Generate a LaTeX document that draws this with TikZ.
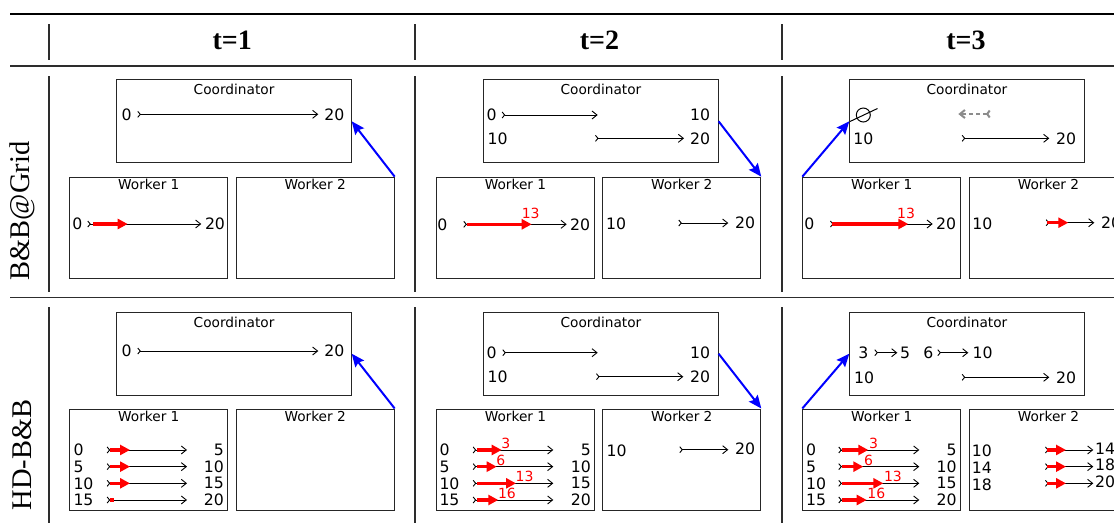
\documentclass[tikz,border=0pt]{standalone}
\usepackage{fontspec}
\setmainfont{Liberation Serif}
\setsansfont{DejaVu Sans}
\usepackage{tikz}
\usetikzlibrary{positioning, arrows.meta}
\definecolor{rulegray}{RGB}{45, 45, 45}
\definecolor{stalegray}{RGB}{140, 140, 140}

\begin{document}
\begin{tikzpicture}[
    x=1pt, y=-1pt,
    box/.style={rectangle, draw=black!85, line width=1pt, anchor=north west, inner sep=0pt, minimum height=101pt},
    crd/.style={box, minimum width=234.3pt, minimum height=83pt},
    wkr/.style={box, minimum width=158pt},
    ttl/.style={font=\sffamily\fontsize{13.7}{14}\selectfont, inner sep=0pt},
    num/.style={font=\sffamily\fontsize{15.7}{16}\selectfont, inner sep=0pt},
    hit/.style={font=\sffamily\fontsize{14}{14}\selectfont, text=red, inner sep=0pt},
    ivl/.style={line width=0.9pt, {Straight Barb[reversed,length=2.5pt,width=6pt]}-{Straight Barb[length=5pt,width=8pt]}},
    done/.style={red, line width=3.5pt, -{Triangle[length=10pt,width=10pt]}},
    stale/.style={stalegray, line width=2pt, dash pattern=on 4pt off 3pt, {Straight Barb[reversed,length=2.5pt,width=7pt]}-{Straight Barb[length=5pt,width=8pt]}},
    msg/.style={blue, line width=2pt, -{Stealth[length=13pt,width=11pt,inset=2pt]}},
    rule/.style={rulegray, line width=1.3pt},
    head/.style={font=\bfseries\fontsize{28}{28}\selectfont, inner sep=0pt},
    algo/.style={font=\fontsize{28.5}{29}\selectfont, rotate=90, inner sep=0pt}
]
    \useasboundingbox (0,0) rectangle (1114,523);
    \clip (0,0) rectangle (1114,523);

    % table rules
    \draw[black, line width=2pt] (10,14) -- (1114,14);
    \draw[rule] (10,66) -- (1114,66);
    \draw[rule] (10,297.5) -- (1114,297.5);
    \draw[rule] (49,24) -- (49,59.5) (49,76) -- (49,291.5) (49,307) -- (49,523);
    \draw[rule] (415,24) -- (415,59.5) (415,76) -- (415,291.5) (415,307) -- (415,523);
    \draw[rule] (782,24) -- (782,59.5) (782,76) -- (782,291.5) (782,307) -- (782,523);

    \node[head] (t1) at (232.3,40) {t=1};
    \node[head] (t2) at (599.5,40) {t=2};
    \node[head] (t3) at (966,40) {t=3};
    \node[algo] (grid) at (22.5,211) {B\&B@Grid};
    \node[algo] (hdbb) at (22.5,455) {HD-B\&B};

    % B&B@Grid, t=1
    \node[crd] (crdA1) at (116.4,79.3) {};
    \node[ttl, below=4.7pt of crdA1.north] (crdA1t) {Coordinator};
    \node[wkr] (wkA1a) at (69.3,176.7) {};
    \node[ttl, below=2.3pt of wkA1a.north] (wkA1at) {Worker 1};
    \node[wkr] (wkA1b) at (235.7,176.7) {};
    \node[ttl, below=2.3pt of wkA1b.north] (wkA1bt) {Worker 2};
    \node[num] (cA1lo) at (126.7,114.3) {0};
    \node[num] (cA1hi) at (334.3,114.3) {20};
    \draw[ivl] (137.3,114.3) -- (318.3,114.3);
    \node[num] (wA1lo) at (77.3,224) {0};
    \node[num] (wA1hi) at (215,224) {20};
    \draw[ivl] (87.3,224) -- (201.3,224);
    \draw[done] (93.3,224) -- (127.7,224);
    \draw[msg] (wkA1b.north east) -- (crdA1.east);

    % B&B@Grid, t=2
    \node[crd] (crdA2) at (483.3,79.3) {};
    \node[ttl, below=4.7pt of crdA2.north] (crdA2t) {Coordinator};
    \node[wkr] (wkA2a) at (436,176.7) {};
    \node[ttl, below=2.3pt of wkA2a.north] (wkA2at) {Worker 1};
    \node[wkr] (wkA2b) at (602.3,176.7) {};
    \node[ttl, below=2.3pt of wkA2b.north] (wkA2bt) {Worker 2};
    \node[num] (cA2lo) at (491.7,115) {0};
    \node[num] (cA2mid) at (700,115) {10};
    \draw[ivl] (501.7,115) -- (597.7,115);
    \node[num] (cA2mid2) at (497.7,138.3) {10};
    \node[num] (cA2hi) at (700,138.3) {20};
    \draw[ivl] (595,138.3) -- (684,138.3);
    \node[num] (wA2lo) at (442.3,224.3) {0};
    \node[num] (wA2hi) at (580,224.3) {20};
    \draw[ivl] (463.3,224.3) -- (566.7,224.3);
    \draw[done] (466.7,224.3) -- (531.7,224.3);
    \node[hit] (wA2at) at (530.7,213.3) {13};
    \node[num] (vA2lo) at (616,224) {10};
    \node[num] (vA2hi) at (745,222.3) {20};
    \draw[ivl] (678.3,223) -- (728.3,223);
    \draw[msg] (crdA2.east) -- (wkA2b.north east);

    % B&B@Grid, t=3
    \node[crd] (crdA3) at (849.3,79.3) {};
    \node[ttl, below=4.7pt of crdA3.north] (crdA3t) {Coordinator};
    \node[wkr] (wkA3a) at (802.3,176.7) {};
    \node[ttl, below=2.3pt of wkA3a.north] (wkA3at) {Worker 1};
    \node[wkr] (wkA3b) at (969,176.7) {};
    \node[ttl, below=2.3pt of wkA3b.north] (wkA3bt) {Worker 2};
    \node[circle, draw, line width=1pt, minimum size=14pt, inner sep=0pt] (cA3nil) at (863.3,115) {};
    \draw[line width=1pt] (850,121.5) -- (877.5,108.5);
    \draw[stale] (990.7,114) -- (958.3,114);
    \node[num] (cA3lo) at (863.3,138.3) {10};
    \node[num] (cA3hi) at (1066,138.3) {20};
    \draw[ivl] (961.7,138.3) -- (1049.3,138.3);
    \node[num] (wA3lo) at (809.3,224) {0};
    \node[num] (wA3hi) at (946,224) {20};
    \draw[ivl] (830,224) -- (932.7,224);
    \draw[done] (831.7,224) -- (908.3,224);
    \node[hit] (wA3at) at (906,213) {13};
    \node[num] (vA3lo) at (982.3,224) {10};
    \node[num] (vA3hi) at (1111,222.3) {20};
    \draw[ivl] (1045.7,222.7) -- (1094.3,222.7);
    \draw[done] (1046.7,222.7) -- (1068.3,222.7);
    \draw[msg] (wkA3a.north west) -- (crdA3.west);

    % HD-B&B, t=1
    \node[crd] (crdB1) at (116.4,311.7) {};
    \node[ttl, below=4.7pt of crdB1.north] (crdB1t) {Coordinator};
    \node[wkr] (wkB1a) at (69.3,408.5) {};
    \node[ttl, below=2.3pt of wkB1a.north] (wkB1at) {Worker 1};
    \node[wkr] (wkB1b) at (235.7,408.5) {};
    \node[ttl, below=2.3pt of wkB1b.north] (wkB1bt) {Worker 2};
    \node[num] (cB1lo) at (126.7,351) {0};
    \node[num] (cB1hi) at (334.3,351) {20};
    \draw[ivl] (137.3,351) -- (318.3,351);
    \foreach \lo/\hi [count=\i] in {0/5, 5/10, 10/15, 15/20} {
        \node[num, anchor=west] (wB1lo\i) at (73.3,433.3+16.67*\i) {\lo};
        \node[num, anchor=east] (wB1hi\i) at (224,433.3+16.67*\i) {\hi};
        \draw[ivl] (106.7,433.3+16.67*\i) -- (187,433.3+16.67*\i);
    }
    \foreach \i in {1,2,3}
        \draw[done] (110,433.3+16.67*\i) -- (130,433.3+16.67*\i);
    \fill[red] (110,498.3) rectangle (113.5,501.7);
    \draw[msg] (wkB1b.north east) -- (crdB1.east);

    % HD-B&B, t=2
    \node[crd] (crdB2) at (483.3,311.7) {};
    \node[ttl, below=4.7pt of crdB2.north] (crdB2t) {Coordinator};
    \node[wkr] (wkB2a) at (436,408.5) {};
    \node[ttl, below=2.3pt of wkB2a.north] (wkB2at) {Worker 1};
    \node[wkr] (wkB2b) at (602.3,408.5) {};
    \node[ttl, below=2.3pt of wkB2b.north] (wkB2bt) {Worker 2};
    \node[num] (cB2lo) at (491.7,352.7) {0};
    \node[num] (cB2mid) at (700,352.7) {10};
    \draw[ivl] (502.3,352.7) -- (597.7,352.7);
    \node[num] (cB2mid2) at (497.7,376.7) {10};
    \node[num] (cB2hi) at (700,376.7) {20};
    \draw[ivl] (596,376.7) -- (683.3,376.7);
    \foreach \lo/\hi/\e/\t [count=\i] in {0/5/501.7/3, 5/10/496.7/6, 10/15/516/13, 15/20/498.3/16} {
        \node[num, anchor=west] (wB2lo\i) at (439.3,433.3+16.67*\i) {\lo};
        \node[num, anchor=east] (wB2hi\i) at (591,433.3+16.67*\i) {\hi};
        \draw[ivl] (472.7,433.3+16.67*\i) -- (553.3,433.3+16.67*\i);
        \draw[done] (476.7,433.3+16.67*\i) -- (\e,433.3+16.67*\i);
        \node[hit, anchor=west] (wB2at\i) at (\e-0.5,426.6+16.67*\i) {\t};
    }
    \node[num] (vB2lo) at (616.7,450.7) {10};
    \node[num] (vB2hi) at (745,449) {20};
    \draw[ivl] (679.3,449.7) -- (728.3,449.7);
    \draw[msg] (crdB2.east) -- (wkB2b.north east);

    % HD-B&B, t=3
    \node[crd] (crdB3) at (849.3,311.7) {};
    \node[ttl, below=4.7pt of crdB3.north] (crdB3t) {Coordinator};
    \node[wkr] (wkB3a) at (802.3,408.5) {};
    \node[ttl, below=2.3pt of wkB3a.north] (wkB3at) {Worker 1};
    \node[wkr] (wkB3b) at (969,408.5) {};
    \node[ttl, below=2.3pt of wkB3b.north] (wkB3bt) {Worker 2};
    \node[num] (cB3a) at (863.3,352.7) {3};
    \node[num] (cB3b) at (905,352.7) {5};
    \draw[ivl] (874.3,352.7) -- (897.3,352.7);
    \node[num] (cB3c) at (928.3,352.7) {6};
    \node[num] (cB3d) at (982.7,352.7) {10};
    \draw[ivl] (937.3,352.7) -- (968.3,352.7);
    \node[num] (cB3e) at (864,377.3) {10};
    \node[num] (cB3f) at (1066,377.3) {20};
    \draw[ivl] (961.7,377.3) -- (1049.3,377.3);
    \foreach \lo/\hi/\e/\t [count=\i] in {0/5/868.3/3, 5/10/863.3/6, 10/15/883.3/13, 15/20/866.7/16} {
        \node[num, anchor=west] (wB3lo\i) at (806,433.3+16.67*\i) {\lo};
        \node[num, anchor=east] (wB3hi\i) at (956.7,433.3+16.67*\i) {\hi};
        \draw[ivl] (838.3,433.3+16.67*\i) -- (919.3,433.3+16.67*\i);
        \draw[done] (841.7,433.3+16.67*\i) -- (\e,433.3+16.67*\i);
        \node[hit, anchor=west] (wB3at\i) at (\e+0.5,426.6+16.67*\i) {\t};
    }
    \foreach \lo/\hi [count=\i] in {10/14, 14/18, 18/20} {
        \node[num, anchor=west] (vB3lo\i) at (971.7,434.3+16.67*\i) {\lo};
        \node[num, anchor=west] (vB3hi\i) at (1095,431.7+16.67*\i) {\hi};
        \draw[ivl] (1045,433.3+16.67*\i) -- (1093.3,433.3+16.67*\i);
        \draw[done] (1047,433.3+16.67*\i) -- (1066,433.3+16.67*\i);
    }
    \draw[msg] (wkB3a.north west) -- (crdB3.west);
\end{tikzpicture}
\end{document}
